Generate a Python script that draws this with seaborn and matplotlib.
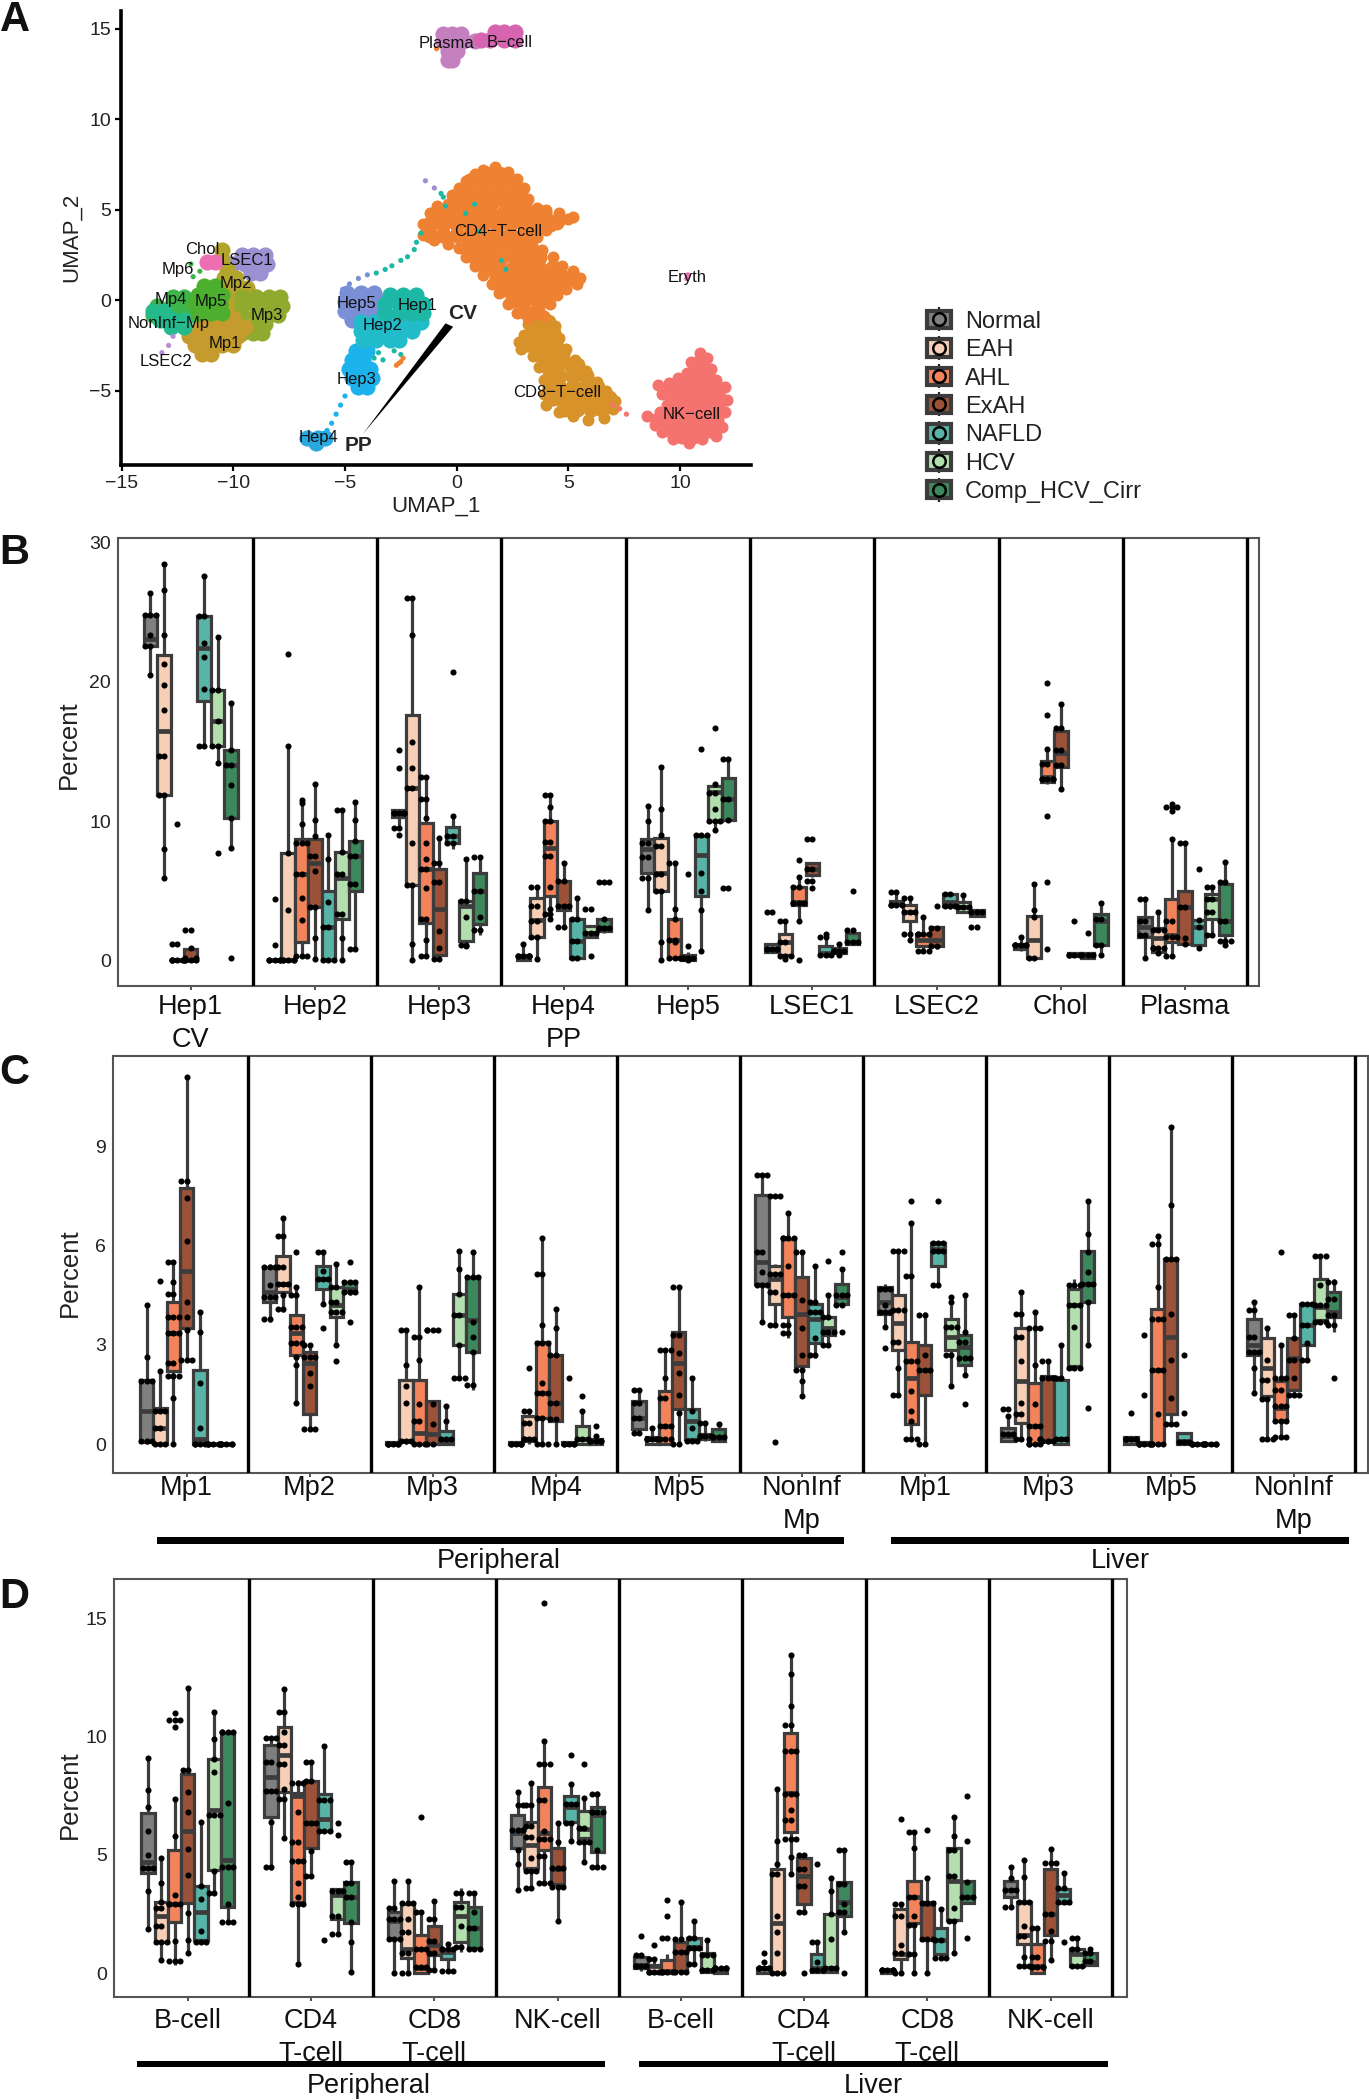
import matplotlib
matplotlib.use('Agg')
import matplotlib.pyplot as plt
import seaborn as sns
import pandas as pd
import numpy as np
from matplotlib.legend_handler import HandlerTuple
from matplotlib.lines import Line2D
from matplotlib.patches import Patch, Rectangle

# legend groups and their colours
GROUPS = ['Normal', 'EAH', 'AHL', 'ExAH', 'NAFLD', 'HCV', 'Comp_HCV_Cirr']
GROUP_COLORS = ['#7F7F7F', '#F6CFB6', '#F2835A', '#9C5238', '#58B4A6', '#B3DFAE', '#3C875B']

# panel A: cells read as rows, {y: [x, ...]}
CD4_ROWS = {7.0: [1.3, 1.9], 6.6: [.6, 1.2, 1.8, 2.4], 6.0: [.3, .7, 1.3, 1.9, 2.5, 2.8],
            5.4: [0, .4, 1, 1.6, 2.2, 2.8, 3.0], 4.8: [-.9, -.3, .3, .9, 1.5, 2.1, 2.7, 3.3, 3.9],
            4.4: [4.5], 4.2: [-1.2, -.6, 0, .6, 1.2, 1.8, 2.4, 3, 3.6, 4.2],
            3.6: [-1.2, -.6, 0, .6, 1.2, 1.8, 2.4, 3], 3.0: [.5, .9, 1.5, 2.1, 2.7, 3.3],
            2.4: [.8, 1.4, 2, 2.6, 3.2, 3.7], 1.8: [1.3, 1.9, 2.5, 3.1, 3.7, 4.3],
            1.2: [1.8, 2.4, 3, 3.6, 4.2, 4.8, 5.2], .6: [2.1, 2.7, 3.3, 3.9, 4.4],
            0: [2.5, 3, 3.6, 4.0], -.6: [3, 3.6]}
CD4_EDGE_X = [1.7, 1.2, .8, .4, .1, -.2, -.4, -.9, -1.2, -1.5, -1.5, -1, -.4, .1, .4, .8, 1.2, 1.6, 1.9, 2.3, 2.7, 3.2, 3.9,
              4.2, 4.5, 4.9, 5.4, 5.5, 5.2, 4.7, 4.3, 3.8, 3.6, 3.4, 4, 4.5, 5, 5.2, 4.6, 4, 3.6, 3.2, 3, 2.7, 2.3]
CD4_EDGE_Y = [7.35, 7.2, 7, 6.6, 6.2, 5.8, 5.3, 5.2, 4.8, 4.2, 3.6, 3.3, 3.1, 2.9, 2.4, 1.9, 1.4, .9, .4, -.2, -.7, -1, -.9,
              -.2, .3, .6, .9, 1.2, 1.6, 1.9, 2.4, 2.8, 3.5, 3.9, 3.9, 4.2, 4.5, 4.6, 4.8, 5, 5.1, 5.6, 6.2, 6.7, 7.1]
CD8_ROWS = {-1.2: [3.6, 4.1], -1.8: [3.4, 4, 4.3], -2.4: [3.2, 3.6, 4.2, 4.4], -3: [3.7, 4.1, 4.7],
            -3.6: [4, 4.5, 5.1, 5.4], -4.2: [4.2, 4.6, 5.2, 5.8], -4.8: [4.2, 4.6, 5.2, 5.8, 6.3],
            -5.4: [4.3, 4.7, 5.3, 5.9, 6.5, 6.8], -6: [4.8, 5.4, 6, 6.5]}
CD8_EDGE_X = [3.2, 3, 2.8, 2.9, 3.4, 3.7, 3.9, 3.9, 4, 4.6, 5.2, 5.9, 6.6, 7, 7.1, 6.7, 6.3, 5.8, 5.3, 4.9, 4.6, 4.4]
CD8_EDGE_Y = [-1.3, -1.9, -2.3, -2.7, -3.1, -3.7, -4.4, -5.2, -5.8, -6.2, -6.4, -6.6, -6.5, -6, -5.6, -5, -4.5, -3.9, -3.3,
              -2.7, -2.1, -1.4]
NK_ROWS = {-3.4: [10.9], -3.9: [10.7, 11.1], -4.4: [10.4, 10.9, 11.3], -4.9: [9.6, 10, 10.6, 11.2, 11.7],
           -5.5: [9.7, 10.2, 10.8, 11.4, 11.8], -6.1: [9.6, 10, 10.6, 11.2, 11.7],
           -6.6: [9, 9.4, 9.9, 10.5, 11.1, 11.6], -7.2: [9.6, 10.1, 10.7, 11.3, 11.5], -7.5: [10.1, 10.6]}
NK_EDGE_X = [10.9, 10.5, 10.3, 9.9, 9.5, 9, 9.2, 9.4, 9.1, 8.5, 8.9, 9.2, 9.7, 10.4, 11, 11.6, 11.9, 12, 12.1, 12, 11.6, 11.4, 11.2]
NK_EDGE_Y = [-2.9, -3.4, -4, -4.3, -4.6, -4.7, -5.2, -5.8, -6.2, -6.4, -6.9, -7.3, -7.7, -7.9, -7.7, -7.5, -7, -6.2, -5.5, -4.8,
             -4.4, -3.8, -3.2]
PLASMA_ROWS = {14.7: [-.6, -.2, .2], 14.3: [-.6, -.2, .3, .8], 13.8: [-.4, 0], 13.3: [-.4, -.2]}
BCELL_ROWS = {14.8: [1.7, 2.1, 2.6], 14.4: [1.1, 1.5, 2.1, 2.6]}
HEP5_ROWS = {.4: [-4.9, -4.3, -3.7], -.1: [-5.0, -4.7, -4.1, -3.5], -.6: [-5.0, -4.6, -4, -3.4], -1.1: [-4.7, -4.1]}
HEP1_ROWS = {.3: [-3, -2.4, -1.8], -.2: [-3.2, -2.6, -2, -1.5], -.7: [-3.2, -2.6, -2, -1.5]}
HEP2_ROWS = {-1.2: [-4.3, -3.7, -3.1, -2.5, -1.9, -1.6], -1.7: [-4.3, -3.7, -3.1, -2.5, -2], -2.2: [-4.2, -3.6, -3, -2.6]}
HEP3_ROWS = {-2.8: [-4.5, -4], -3.3: [-4.7, -4.2], -3.8: [-4.8, -4.3, -3.9], -4.3: [-4.7, -4.2, -3.8], -4.8: [-4.4, -4]}
HEP4_ROWS = {-7.6: [-6.7, -6.2, -5.9], -7.9: [-6.3]}
MP3_ROWS = {.2: [-9.6, -9, -8.4, -7.9], -.3: [-9.6, -9, -8.4, -7.8], -.8: [-9.6, -9, -8.4, -8],
            -1.3: [-9.6, -9, -8.6], -1.8: [-9.6, -9.1, -8.7]}
MP2_ROWS = {2.8: [-10.5], 2.3: [-10.5], 1.7: [-10.3], 1.2: [-10.4, -9.9], .7: [-10.4, -9.9, -9.4],
            .2: [-10.4, -9.9, -9.4, -9], -.3: [-10.4, -9.9]}
MP1_ROWS = {-1: [-11.2, -10.6, -10], -1.5: [-11.5, -11, -10.4, -9.9, -9.5], -2: [-12, -11.5, -10.9, -10.3, -9.8],
            -2.5: [-11.7, -11.1, -10.5, -10], -3: [-11.4, -11]}
MP5_ROWS = {.8: [-11.3, -10.8], .3: [-11.6, -11, -10.5], -.2: [-11.7, -11.1, -10.6], -.7: [-11.6, -11, -10.5]}
MP4_ROWS = {.2: [-12.7, -12.2], -.3: [-13.4, -12.8, -12.2], -.8: [-13.6, -13, -12.4, -11.9]}
NONINF_ROWS = {-.6: [-13.6, -13.1], -1.1: [-13.3, -12.7, -12.2], -1.5: [-12.8, -12.2]}
LSEC1_ROWS = {2.5: [-9.6, -9.1, -8.6], 2: [-10, -9.5, -9, -8.5], 1.5: [-9.2, -8.8]}
CHOL_ROWS = {2.1: [-11.2, -10.8]}

UMAP_CLUSTERS = [('LSEC1', LSEC1_ROWS, '#9B90D2'), ('Mp2', MP2_ROWS, '#B3A52B'), ('Chol', CHOL_ROWS, '#EE6FB1'),
                 ('Mp3', MP3_ROWS, '#8FAA2E'), ('Mp1', MP1_ROWS, '#C49B2C'), ('Mp4', MP4_ROWS, '#3DB54A'),
                 ('NonInf', NONINF_ROWS, '#25BA8C'), ('Mp5', MP5_ROWS, '#4CB02E'),
                 ('Hep5', HEP5_ROWS, '#7B8FD6'), ('Hep3', HEP3_ROWS, '#1CB2EC'), ('Hep2', HEP2_ROWS, '#22BBC9'),
                 ('Hep1', HEP1_ROWS, '#1DB8A5'), ('Hep4', HEP4_ROWS, '#2AA9E0'),
                 ('CD8', CD8_ROWS, '#D8922A'), ('CD4', CD4_ROWS, '#EE8232'), ('NK', NK_ROWS, '#F4736E'),
                 ('Plasma', PLASMA_ROWS, '#C47FBF'), ('Bcell', BCELL_ROWS, '#D664B0')]
UMAP_EDGES = [(CD8_EDGE_X, CD8_EDGE_Y, '#D8922A'), (CD4_EDGE_X, CD4_EDGE_Y, '#EE8232'), (NK_EDGE_X, NK_EDGE_Y, '#F4736E')]

# thin strays
STRAY_X = [-1.6, -1.8, -1.9, -2.2, -2.5, -2.9, -3.2, -3.6, -.5, -.6, -.7, .8, .4, 1, 2, 2.2, -3.5, -3.3, -3.7, -2.8, -2.5,
           -4, -4.4, -4.8, -5.1, -1, -1.4, -5, -5.2, -5.4, -5.6, -5.8, -5.9, -12.7, -12.9, -13.2,
           -2.6, -2.5, -2.7, -2.4, -.9, 7, 7.3, 7.6, 8.9, 9.5, 10.3, 10.35, -11.5, -11.9, -11.8]
STRAY_Y = [3.7, 3.2, 2.8, 2.4, 2.2, 1.9, 1.7, 1.5, 5.2, 5.7, 5.9, 5.3, 4.8, 3.8, 2.2, 1.7, -2.9, -3.3, -3.2, -2.8, -3,
           1.4, 1.2, .9, .6, 6.2, 6.6, -5.3, -5.8, -6.3, -6.8, -7.2, -7.4, -2, -2.5, -2.9,
           -3.5, -3.4, -3.6, -3.2, 13.9, -5.8, -6, -6.3, -4.7, -4.9, 1.2, 1.4, 1.6, 2, 1.3]
STRAY_COLORS = ['#1DB8A5'] * 21 + ['#7B8FD6'] * 4 + ['#9B90D2'] * 2 + ['#1CB2EC'] * 6 + ['#B590D3'] * 3 + \
               ['#EE8232'] * 5 + ['#F4736E'] * 5 + ['#EE6FB1'] * 2 + ['#3DB54A'] * 3

UMAP_LABELS = ['Plasma', 'B−cell', 'CD4−T−cell', 'Chol', 'LSEC1', 'Mp6', 'Mp2', 'Mp4', 'Mp5', 'Mp3', 'NonInf−Mp', 'Mp1',
               'LSEC2', 'Hep5', 'Hep1', 'Hep2', 'Hep3', 'Hep4', 'CD8−T−cell', 'NK−cell', 'Eryth']
UMAP_LABEL_X = [-.45, 2.35, 1.85, -11.4, -9.4, -12.5, -9.9, -12.8, -11, -8.5, -12.9, -10.4, -13, -4.5, -1.75, -3.3, -4.5,
                -6.2, 4.5, 10.5, 10.3]
UMAP_LABEL_Y = [14.2, 14.25, 3.8, 2.8, 2.2, 1.7, .9, .05, -.1, -.85, -1.3, -2.4, -3.4, -.2, -.3, -1.4, -4.4, -7.6, -5.1,
                -6.3, 1.25]

# panel B: [whisker low, q1, median, q3, whisker high] per group, dots per group
B_LABELS = ['Hep1\nCV', 'Hep2', 'Hep3', 'Hep4\nPP', 'Hep5', 'LSEC1', 'LSEC2', 'Chol', 'Plasma']
B_BOXES = [
    [[20.5, 22.6, 23.05, 24.8, 26.4], [5.9, 11.9, 16.5, 21.9, 28.5], [0, 0, 0, 0, 0], [0, 0, .05, .85, .9],
     [15.4, 18.6, 22.4, 24.7, 27.6], [14.2, 15.4, 17.2, 19.4, 23.2], [8.1, 10.2, 14, 15.1, 18.5]],
    [[0, 0, 0, 0, 0], [0, 0, 0, 7.7, 15.4], [.3, 1.3, 6.2, 8.7, 11.5], [.1, 3.8, 7, 8.7, 12.7],
     [0, 0, 2.4, 5, 9], [0, 3, 5.9, 7.8, 10.8], [.8, 5, 7.5, 8.6, 11.4]],
    [[9.6, 10.3, 10.6, 10.8, 10.9], [0, 5.4, 12.4, 17.6, 26], [.3, 2.7, 6.6, 9.9, 13.2], [.1, .4, 3.7, 6.6, 8.8],
     [8, 8.4, 8.9, 9.6, 10.4], [1, 1.4, 3.9, 4.3, 7.3], [1.8, 2.6, 5, 6.3, 7.4]],
    [[0, 0, .3, .4, 1.2], [.1, 1.7, 2.9, 4.5, 5.3], [3, 4.6, 8.1, 10, 11.9], [2.4, 3.6, 3.9, 5.7, 7],
     [.1, .2, 1.4, 3, 4.5], [1.7, 1.7, 2, 2.5, 2.5], [2, 2.1, 2.3, 3, 3]],
    [[3.6, 6.3, 8, 8.7, 11.1], [0, 5, 6.3, 8.8, 13.9], [.1, .2, 1.5, 3, 7], [0, 0, .2, .4, .6],
     [.7, 4.6, 7.6, 8.9, 9], [9.4, 10, 12.1, 12.5, 12.7], [10, 10.1, 11.6, 13.1, 14.5]],
    [[.5, .6, .8, 1.2, 1.2], [.1, .4, 1.3, 1.9, 2.8], [2.8, 4, 4.2, 5.3, 6], [6, 6.1, 6.6, 7, 7.1],
     [.4, .4, .5, 1, 1.9], [.4, .5, .7, .9, 1.2], [1.2, 1.2, 1.3, 2, 2.2]],
    [[3.8, 4, 4.1, 4.3, 4.9], [1.5, 2.8, 3.5, 4, 4.5], [.7, 1, 1.5, 1.9, 3.1], [.8, 1, 1.5, 2.4, 2.4],
     [3.7, 3.9, 4.2, 4.8, 4.8], [3.4, 3.5, 3.8, 4.2, 4.7], [3.2, 3.2, 3.5, 3.6, 3.6]],
    [[.7, .8, 1.1, 1.2, 1.7], [.1, .2, 1.5, 3.2, 5.5], [12.7, 12.8, 13.2, 14.3, 15.2], [12.3, 13.9, 14.9, 16.5, 18.4],
     [.3, .3, .4, .5, .5], [.2, .2, .4, .5, .5], [.4, 1.1, 2.8, 3.3, 4.1]],
    [[.2, 1.7, 2.4, 3.1, 4.4], [.5, .6, 1.6, 2.3, 3.5], [.3, 1.3, 1.8, 4.4, 8.7], [1.2, 1.2, 3.8, 5, 8.4],
     [.9, 1.1, 2.4, 2.9, 2.9], [1.8, 3, 4.4, 4.8, 5.3], [1.1, 1.8, 2.8, 5.5, 7.1]],
]
B_DOTS = [
    [[20.5, 22.6, 22.6, 23.4, 24.8, 24.8, 24.8, 26.4],
     [5.9, 8, 11.9, 11.9, 14.7, 14.7, 18, 19.8, 21.3, 23.4, 26.6, 28.5],
     [0, 0, 0, 0, 0, 0, 9.8, 1.2, 1.2],
     [0, 0, 0, 0, .2, .2, .9, 2.2, 2.2],
     [15.4, 15.4, 19.5, 21.8, 22.8, 24.7, 24.7, 27.6],
     [7.7, 14.2, 15.4, 15.4, 17.2, 19.4, 19.4, 23.2],
     [.2, 8.1, 10.2, 12.6, 14, 14, 15.1, 18.5]],
    [[0, 0, 0, 0, 0, 1.1, 4.4],
     [0, 0, 0, 0, 0, 3.6, 7.7, 15.4, 22],
     [.3, .3, .3, 2.9, 4.5, 6.2, 6.2, 8.4, 8.4, 8.4, 9.8, 11.3, 11.5],
     [.1, 1.6, 3.8, 3.8, 6.4, 7.5, 7.5, 8.9, 10.1, 12.7],
     [0, 0, 0, 2.4, 2.4, 4.2, 7.3, 9],
     [0, 1.6, 3.3, 3.3, 6.2, 6.2, 7.8, 10.8, 10.8],
     [.8, .8, 5.5, 5.5, 7.5, 7.5, 8.6, 10.1, 11.4]],
    [[9, 9.5, 9.5, 10.6, 10.6, 10.6, 10.6, 10.6, 13.8, 15.1],
     [0, 1.2, 5.4, 5.4, 8.4, 12.4, 12.4, 13.8, 15.7, 23.4, 26, 26],
     [.3, .3, 1.5, 3, 3, 5.2, 6.6, 6.6, 7.3, 8.4, 10.2, 11.6, 11.6, 13.2, 13.2],
     [.1, .1, .9, 2.1, 5.6, 5.6, 7, 7, 8.8],
     [8.4, 8.4, 8.9, 8.9, 10.4, 20.7],
     [1, 1.1, 1.1, 3.1, 4.3, 4.3, 7.3],
     [2.2, 2.2, 3.1, 5, 5, 7.4, 7.4]],
    [[.35, .35, .35, .35, .35, .35, 1.2],
     [.1, 1.7, 1.7, 2.8, 2.8, 3.9, 3.9, 5.3, 5.3],
     [3, 3.3, 3.3, 3.7, 5.3, 7.5, 7.5, 8.5, 8.5, 10, 10, 11, 11.9, 11.9],
     [2.4, 2.4, 3.9, 3.9, 3.9, 5.7, 5.7, 7],
     [.2, .2, 1.4, 1.4, 3, 3, 4.5],
     [.3, 2, 2, 2, 3.7, 3.7],
     [2.3, 2.3, 2.3, 2.3, 3, 5.6, 5.6, 5.6]],
    [[3.6, 5.9, 5.9, 7.4, 7.4, 8.4, 8.4, 10, 11.1],
     [0, 1.3, 5, 5, 6.2, 6.2, 8.2, 8.2, 9, 10.9, 13.9],
     [.2, .2, .2, 1.3, 1.5, 1.5, 3, 3.7, 7, 7],
     [0, .2, .2, .2, .2, 1, 6.2],
     [.7, 3.6, 5, 6.3, 9, 9, 9, 15.2],
     [9.4, 10, 10, 10, 10.9, 12, 12, 12.7, 16.7],
     [5.2, 5.2, 10.1, 11.6, 11.6, 14.5, 14.5]],
    [[.8, .8, .8, .8, .8, 3.5, 3.5],
     [.1, .3, .3, .3, 1.3, 1.3, 2.8, 2.8],
     [0, 2.8, 4.1, 4.1, 4.1, 4.1, 5.3, 5.3, 6, 7.2],
     [5.2, 5.7, 5.7, 6.6, 6.6, 8.7, 8.7],
     [.4, .4, .4, 1.7, 1.7, 1.9],
     [.4, .7, .7, .7, .7, 1.2],
     [1.3, 1.3, 1.3, 2.2, 2.2, 5]],
    [[4, 4, 4, 4, 4.9, 4.9],
     [1.5, 1.9, 1.9, 3.5, 3.5, 3.5, 4.5, 4.5],
     [.7, .7, .7, 1.9, 1.9, 1.9, 1.9, 3.1],
     [1, 1, 2.3, 2.3, 3.9],
     [3.9, 3.9, 3.9, 4.8, 4.8],
     [3.8, 3.8, 3.8, 4.7],
     [2.4, 2.4, 3.5, 3.5, 3.5, 3.5]],
    [[1.1, 1.1, 1.1, 1.1, 1.1, 1.1, 1.7],
     [.2, .2, 3.1, 3.6, 5.5],
     [.8, 5.6, 10.4, 13, 13, 13, 13, 13, 14.1, 14.1, 15.2, 17.6, 19.9],
     [12.3, 14, 14, 15.1, 15.1, 16.7, 16.7, 18.4],
     [.4, .4, .4, .4, 2.8],
     [.4, .4, .4, 2],
     [.4, 1.1, 1.1, 3, 3, 4.1]],
    [[.2, 1.8, 1.8, 2.8, 2.8, 4.4, 4.4],
     [.5, .9, .9, .9, .9, 2.2, 2.2, 2.2, 3.5],
     [.3, .3, 1.7, 1.7, 1.7, 2.8, 2.8, 8.7, 10.7, 11, 11, 11, 11.2],
     [1.2, 1.6, 3.8, 3.8, 8.4, 8.4],
     [.9, 2.4, 2.9, 6.6],
     [1.8, 1.8, 3.5, 3.5, 4.4, 4.4, 5.3, 5.3],
     [1.1, 1.4, 1.4, 1.4, 2.8, 2.8, 5.6, 5.6, 7.1]],
]

# panel C
C_LABELS = ['Mp1', 'Mp2', 'Mp3', 'Mp4', 'Mp5', 'NonInf\nMp', 'Mp1', 'Mp3', 'Mp5', 'NonInf\nMp']
C_BOXES = [
    [[0, .05, 1, 1.95, 4.2], [0, 0, .5, 1.1, 2.2], [0, 2.2, 3.35, 4.3, 5.5], [2.55, 3.5, 5.25, 7.75, 11.1],
     [0, 0, .15, 2.25, 4], [0, 0, 0, 0, 0], [0, 0, 0, 0, 0]],
    [[3.7, 4.3, 4.6, 5.35, 5.45], [4, 4.6, 4.85, 5.7, 6.85], [1.25, 2.7, 3.35, 3.9, 4.75], [.4, .9, 2.45, 2.8, 3],
     [4.25, 4.7, 5, 5.4, 5.8], [3, 3.85, 4.2, 4.75, 5.45], [4.5, 4.6, 4.7, 4.9, 4.95]],
    [[0, 0, 0, .05, .05], [0, .1, .1, 1.95, 3.45], [0, 0, .35, 1.95, 4.75], [0, 0, .3, 1.3, 1.3],
     [0, 0, .1, .4, 1.1], [2, 3, 3.9, 4.55, 5.85], [1.65, 2.8, 3.75, 5.05, 5.8]],
    [[0, 0, 0, .05, .05], [0, .1, .15, .85, 1], [0, .8, 1.55, 3.1, 6.25], [0, .7, 1.25, 2.7, 4.1],
     [0, 0, 0, .05, .05], [0, 0, .15, .55, 1], [0, 0, .1, .15, .15]],
    [[.3, .45, .8, 1.3, 1.65], [0, 0, .15, .2, .5], [0, 0, .55, 1.6, 2.9], [0, 1.05, 2.45, 3.4, 4.75],
     [.05, .15, .7, 1.05, 2], [.1, .15, .2, .3, .7], [.05, .1, .2, .45, .6]],
    [[3.7, 4.85, 5.5, 7.55, 8.15], [3.6, 4.25, 5, 5.4, 5.45], [3.2, 3.85, 4.5, 6.2, 7], [1.45, 2.35, 3.95, 5.05, 5.8],
     [2.6, 3.05, 3.8, 4.25, 5.4], [3, 3.3, 3.5, 3.85, 4.5], [4.15, 4.25, 4.45, 4.85, 5.3]],
    [[3.55, 3.95, 4.3, 4.75, 4.85], [1.5, 2.85, 3.65, 4.5, 5.85], [.1, .6, 2, 3.1, 6.7], [0, 1.5, 2.25, 3, 4],
     [4.8, 5.4, 5.9, 6.1, 6.1], [1.75, 2.85, 3.25, 3.8, 4.45], [2.1, 2.4, 2.95, 3.3, 4.5]],
    [[.05, .1, .25, .5, .85], [.15, .65, 1.9, 3.5, 4.6], [0, 0, .55, 1.85, 4], [0, .1, .1, 2.05, 2.5],
     [0, 0, .15, 1.95, 3], [2.3, 2.35, 4.2, 4.7, 5], [3, 4.3, 4.85, 5.85, 7.35]],
    [[0, 0, .15, .2, .2], [0, 0, 0, .05, .05], [0, 0, 2.25, 4.1, 6.3], [.6, .9, 3.25, 5.6, 9.6],
     [0, 0, .1, .35, .35], [0, 0, 0, 0, 0], [0, 0, 0, 0, 0]],
    [[1.55, 2.7, 3, 3.8, 4.3], [.15, 1.45, 2.3, 3.2, 3.5], [.2, .7, 1.1, 1.9, 3], [1.45, 1.65, 2.6, 3.2, 3.9],
     [2.5, 3, 3.6, 4.25, 4.3], [3.65, 3.75, 4.15, 5, 5.7], [3.4, 3.85, 4, 4.6, 5]],
]
C_DOTS = [
    [[.1, .1, .1, 1.9, 1.9, 1.9, 2.65, 4.2],
     [0, 0, 0, .5, .5, 1, 1, 1, 2.2, 4.95],
     [0, 1.4, 2.05, 2.05, 2.05, 2.45, 2.45, 3.35, 3.35, 3.35, 3.85, 3.85, 3.85, 4.55, 4.55, 4.9, 5.5, 5.5],
     [2.55, 2.55, 2.55, 3.45, 3.85, 4.3, 6.15, 7.45, 7.95, 7.95, 11.1],
     [0, 0, 0, 0, .5, 1.85, 3.4, 4],
     [0, 0, 0, 0, 0, 0],
     [0, 0, 0, 0, 0, 0]],
    [[3.8, 3.8, 4.45, 4.45, 4.45, 4.8, 5.35, 5.35, 5.35],
     [4.1, 4.1, 4.5, 4.85, 4.85, 4.85, 5.35, 5.35, 6.3, 6.3, 6.85],
     [1.25, 2.4, 2.65, 3.05, 3.05, 3.05, 3.55, 3.55, 3.55, 4.5, 4.5, 4.75, 5.8],
     [.45, .45, .45, 1.75, 2.15, 2.65, 2.65, 2.65, 3, 3],
     [3.5, 4.25, 5, 5, 5, 5.25, 5.8, 5.8],
     [2.5, 3, 4, 4, 4, 4.3, 4.3, 4.75, 4.75, 5.45],
     [3.7, 4.6, 4.6, 4.6, 4.9, 4.9, 4.9, 5.5]],
    [[0, 0, 0, 0, 0, 0],
     [.1, .1, .1, 1.25, 1.75, 2.4, 3.45, 3.45],
     [0, 0, 0, .7, .7, 1.2, 2.55, 3.25, 3.25, 4.75],
     [0, 0, .6, 1.2, 3.45, 3.45, 3.45, 3.45],
     [.15, .15, .15, .7, 1.15],
     [2, 2, 2, 3, 3.9, 3.9, 4.55, 5.3, 5.85],
     [1.8, 1.8, 2.8, 3.25, 3.7, 5.05, 5.05, 5.05, 5.8]],
    [[0, 0, 0, 0, 0, 0],
     [.15, .15, .15, .15, .65, .65, 1, 1, 2.3],
     [0, 0, 0, .8, .8, 1.55, 1.55, 1.55, 1.85, 3.05, 3.05, 3.05, 3.6, 5.15, 5.15, 6.25],
     [0, .75, .75, 1.25, 1.25, 2.7, 2.7, 3.5, 4.1],
     [0, 0, 0, 0, 0, 2],
     [.15, .15, .15, 1, 1.45],
     [.1, .1, .1, .1, .1, .25, .55]],
    [[.35, .35, .8, .8, 1.25, 1.25, 1.65, 1.65],
     [.15, .15, .15, .15, .15, .15, .5],
     [.15, .15, .15, .55, .55, .55, 1.4, 1.4, 2, 2.85, 2.85, 2.85],
     [0, 0, .95, 1.5, 2.15, 2.75, 3.3, 3.3, 4.75, 4.75],
     [.1, .1, .1, .5, 1, 2],
     [.25, .25, .25, .25, .65, .65],
     [.2, .2, .2, .2, .6]],
    [[3.7, 4.8, 4.8, 4.8, 5.2, 5.8, 5.8, 8.15, 8.15, 8.15],
     [.05, 3.6, 3.6, 4.6, 4.6, 5.15, 5.15, 5.15, 7.5, 7.5, 7.5],
     [3.35, 3.35, 3.6, 3.6, 4.5, 4.5, 4.5, 5.4, 6.25, 6.25, 6.25, 6.25, 7],
     [1.45, 1.9, 2.25, 2.25, 2.7, 3.5, 4.35, 5.8, 5.8],
     [2.7, 2.7, 3.2, 4, 4, 4, 4.3, 4.3, 5.4],
     [3, 3, 3.4, 3.4, 3.4, 3.85, 3.85, 4.5, 5.55],
     [3.4, 4.2, 4.2, 4.5, 4.5, 4.5, 5.3, 5.8]],
    [[2.9, 3.55, 4, 4, 4, 4.2, 4.7, 4.7, 4.7],
     [1.5, 1.5, 2.3, 3.1, 3.1, 4.05, 4.05, 4.05, 5.85, 5.85, 5.85],
     [.15, .15, .15, .7, 1, 1.6, 2.5, 2.5, 2.5, 5.1, 5.1, 6.7, 7.35],
     [0, 0, 2.25, 2.25, 2.25, 2.7, 3.9, 3.9],
     [4.8, 4.8, 5.85, 5.85, 5.85, 6.1, 6.1, 6.1, 7.35],
     [1.75, 2.7, 2.7, 3.55, 3.55, 3.55, 4.3, 4.45],
     [1.2, 2.1, 2.6, 2.6, 2.6, 3.1, 3.1, 3.4, 4.5]],
    [[.3, .3, .3, .85, 1.05, 1.05],
     [.15, .15, .9, .9, 1.25, 2.5, 3.25, 3.25, 3.95, 3.95, 4.6],
     [0, 0, 0, 0, .15, .15, .15, .55, .55, .55, 1.2, 2.4, 3.5, 3.5, 3.5, 4],
     [.1, .1, .1, 2, 2, 2, 2.5, 2.5],
     [.15, .15, .15, 2, 2, 3],
     [2.3, 2.3, 2.3, 3.55, 4.2, 4.2, 4.2, 4.8, 4.8, 4.8],
     [1.1, 3, 4.3, 4.85, 4.85, 4.85, 5.2, 5.8, 6.35, 7.35]],
    [[.15, .15, .15, .15, .15, .15, .95],
     [0, 0, 0, 0, 0, 0, 1.5, 3.3],
     [0, 0, 0, 0, .9, 2.25, 2.25, 2.25, 3.8, 3.8, 3.8, 4.75, 6.05, 6.05, 6.3],
     [.6, .6, .6, 1.4, 2.55, 3.95, 5.6, 5.6, 5.6, 7.25, 9.6],
     [.05, .05, .05, .95, 2.7],
     [0, 0, 0, 0, 0, 0],
     [0, 0, 0, 0, 0, 0]],
    [[1.55, 2.3, 2.8, 2.8, 2.8, 3.25, 3.25, 4.05, 4.05, 4.3],
     [.15, .15, .15, 1.35, 1.35, 1.95, 1.95, 2.55, 3.5],
     [.2, .2, .2, .7, .7, .7, 1.15, 1.15, 1.15, 1.65, 1.65, 2, 2, 2, 3, 5.8],
     [1.5, 1.5, 1.5, 2, 2.55, 2.55, 3.2, 3.9, 3.9],
     [2.55, 2.55, 3.05, 3.6, 3.6, 4.25, 4.25, 4.25],
     [3.7, 3.7, 3.7, 4.2, 4.2, 4.2, 4.8, 5.7, 5.7, 5.7],
     [2, 3.6, 3.6, 3.9, 3.9, 4.4, 4.4, 4.9, 4.9]],
]

# panel D
D_LABELS = ['B-cell', 'CD4\nT-cell', 'CD8\nT-cell', 'NK-cell', 'B-cell', 'CD4\nT-cell', 'CD8\nT-cell', 'NK-cell']
D_BOXES = [
    [[1.85, 4.25, 4.7, 6.75, 9.1], [.55, 1.3, 2.4, 3, 4.85], [.35, 2.15, 2.9, 5.2, 7.35], [.85, 2.95, 6, 8.4, 12.05],
     [1.3, 1.4, 2.6, 3.7, 6.4], [3.4, 4.35, 6.9, 9.05, 11.05], [2.15, 2.8, 4.8, 10.15, 10.25]],
    [[4.35, 6.6, 8.3, 9.65, 9.95], [5.7, 7.65, 9.2, 10.4, 12], [.4, 3, 7.5, 7.6, 8.15], [4.05, 5.3, 6.35, 8.1, 8.95],
     [6, 6, 6.5, 7.55, 9.6], [1.65, 2.3, 3.3, 3.55, 3.55], [.05, 2.1, 3.2, 3.85, 4.7]],
    [[0, 1.45, 2.2, 2.6, 3.9], [0, .65, 1, 2.9, 3.9], [0, 0, .2, 1.6, 2.6], [.1, .75, 1.2, 2, 3.05],
     [0, .6, .9, 1, 1.25], [.9, 1.3, 2.4, 3, 3.6], [1, 1.05, 1.9, 2.8, 3.4]],
    [[3.5, 5.3, 5.9, 6.7, 7.65], [3.6, 4.45, 5.4, 6.4, 8.05], [3.8, 5.2, 5.9, 7.85, 9.8], [2.2, 3.75, 4.4, 5.3, 6.35],
     [5.6, 6.4, 7, 7.5, 8], [4.7, 5.7, 6.1, 6.85, 7.4], [4.5, 5.1, 6.7, 7, 7.7]],
    [[.1, .2, .35, .7, .8], [0, 0, .3, .35, .5], [0, 0, .1, .55, .8], [0, .1, .9, 1.3, 3],
     [.35, 1, 1.1, 1.5, 2.2], [.05, .05, .15, .85, 1.4], [0, 0, .15, .2, .2]],
    [[0, 0, .2, .2, .2], [0, 0, 2.1, 4.4, 7.8], [4.1, 5.95, 7.6, 10.15, 13.45], [2.6, 2.9, 4.1, 4.85, 5],
     [.05, .05, .2, .8, 1.3], [.05, .05, .2, 2.5, 4], [1.75, 2.4, 3, 3.85, 5.2]],
    [[0, 0, .15, .15, .15], [.05, .6, .8, 2.7, 2.9], [0, 2.1, 3.2, 3.9, 5.95], [0, 1.4, 2.9, 3, 4],
     [.6, .8, 1.4, 1.9, 2.7], [.85, 2.25, 3.9, 5.3, 6.6], [2.95, 2.95, 3.2, 3.9, 3.9]],
    [[2.8, 3.2, 3.5, 3.9, 4.5], [.3, 1.25, 1.6, 3, 4.8], [0, 0, .3, 1.25, 1.9], [.55, 1.6, 2.5, 4.4, 5.25],
     [2.9, 2.95, 3.3, 3.55, 4.25], [.25, .3, .8, 1, 1.5], [.3, .35, .45, .85, 1]],
]
D_DOTS = [
    [[1.85, 3.45, 4.45, 4.45, 4.45, 5, 6, 7, 7.75, 9.1],
     [.55, 1.3, 1.3, 1.3, 2, 2, 2.75, 2.75, 3, 3.8, 4.85],
     [.5, .5, .5, 1.35, 2.9, 2.9, 2.9, 2.9, 3.3, 5.8, 7.35, 10.4, 10.7, 10.7, 10.7, 11],
     [.85, 1.4, 2.55, 4.15, 5.25, 6.8, 7.65, 8.6, 8.6, 12.05],
     [1.3, 1.3, 1.3, 1.8, 3.15, 3.7, 6.4],
     [3.4, 3.4, 4.3, 6.7, 6.7, 6.7, 8.5, 9.05, 9.9, 11.05],
     [2.15, 2.15, 2.15, 2.9, 4.5, 4.5, 4.5, 7.2, 10.2, 10.2, 10.2, 10.2]],
    [[4.5, 4.5, 6.4, 7.7, 7.7, 7.7, 8.9, 8.9, 9.95, 9.95, 9.95],
     [5.7, 7.35, 7.35, 7.8, 8.85, 8.85, 9.65, 9.65, 10.2, 11.05, 11.05, 12],
     [.4, 2.9, 2.9, 2.9, 3.2, 3.8, 4.75, 4.75, 4.75, 5.55, 5.55, 6.8, 8.05, 8.05, 8.05],
     [4.1, 4.1, 5.15, 6.35, 6.35, 6.35, 8.1, 8.1, 8.9, 8.9],
     [1.4, 6, 6, 6, 7.3, 7.3, 7.3, 9.6],
     [1.65, 1.65, 2.4, 2.4, 3.45, 3.45, 3.45, 5.85, 6.35],
     [.05, 1.3, 2.15, 3.2, 3.2, 3.8, 3.8, 4.7, 4.7]],
    [[0, 1.45, 1.45, 1.45, 2.3, 2.3, 2.3, 2.75, 2.75, 3.9],
     [0, 0, .85, .85, 1.75, 1.75, 2.3, 2.95, 2.95, 2.95, 3.9],
     [.25, .25, .25, 1, 1, 1, 2.6, 2.6, 6.6],
     [.15, .15, .85, .85, 1.35, 1.35, 2.3, 2.3, 3.05],
     [.1, .1, .1, 1, 1, 1, 1, 1.25],
     [1.1, 1.1, 2, 2.8, 2.8, 3.4, 3.4],
     [1, 1, 1, 1.9, 1.9, 2.6, 3.4, 3.4]],
    [[3.5, 4.6, 5.2, 6.05, 6.05, 6.05, 6.05, 7.1, 7.1, 7.65],
     [3.6, 3.6, 4.3, 4.3, 4.3, 4.85, 5.75, 5.75, 6.2, 6.2, 7.1, 7.1, 8.05],
     [3.8, 3.8, 3.8, 4.95, 4.95, 5.65, 5.65, 5.65, 6, 7.3, 7.3, 8.85, 8.85, 8.85, 9.8, 15.65],
     [2.2, 3.65, 3.65, 3.65, 4.45, 4.45, 4.45, 5.55, 6.35],
     [5.6, 6.35, 6.35, 7.15, 7.15, 7.15, 8, 9.2],
     [4.7, 5.55, 5.55, 5.55, 6.15, 6.15, 7.4, 8.85],
     [4.5, 4.5, 4.5, 5.2, 6.8, 6.8, 6.8, 6.8, 7.55, 7.55]],
    [[.3, .3, .3, .3, .3, .75, .75, 1.55],
     [.05, .05, .05, .05, .6, .6, 1.2],
     [.05, .05, .05, .05, 1.5, 1.5, 2.4, 3.1],
     [.05, .05, .05, .9, .9, .9, 1.45, 1.45, 3],
     [.4, .4, 1.05, 1.05, 1.05, 1.5, 1.5, 2.2],
     [.15, .15, .15, .15, .75, .75, .75, 1.4],
     [.2, .2, .2, .2, .2, .2]],
    [[.2, .2, .2, .2, .2, .2, .47, .83],
     [0, 0, 0, .85, 1.75, 2.4, 4.2, 4.2, 4.6, 5.6, 7.8],
     [4.2, 4.9, 5.65, 5.65, 5.65, 6.45, 6.45, 6.9, 7.55, 7.55, 7.55, 9.4, 9.4, 9.4, 10.5, 10.5, 11.3, 12.65, 13.45],
     [0, 2.6, 2.6, 3.7, 3.7, 4.4, 4.4, 5, 5],
     [.15, .15, .15, .45, 1.3, 1.3, 4.6],
     [.2, .2, .2, 1.45, 2.5, 3.45, 4],
     [0, 1.75, 2.6, 2.6, 2.9, 3.75, 3.75, 5.2, 5.2]],
    [[.15, .15, .15, .15, .15, .15, .15],
     [0, 0, .85, .85, 1.2, 2.4, 2.4, 2.9, 2.9, 6.5],
     [0, .8, .8, 2.05, 2.05, 2.4, 3.2, 3.2, 5.3, 5.95, 5.95],
     [0, 1.45, 1.45, 1.45, 2.95, 2.95, 2.95, 4, 6.05],
     [.65, .65, .65, 1.4, 1.4, 2.7],
     [.85, 2.2, 2.2, 2.75, 4.1, 4.1, 5.2, 5.2, 5.8, 6.6],
     [1.5, 3.2, 3.2, 3.2, 3.85, 5.6, 7.5]],
    [[2.8, 2.8, 3.5, 3.5, 3.5, 4, 4.5],
     [.3, .3, .3, .7, 1.55, 1.55, 2, 3, 3, 3, 4.05, 4.8],
     [.25, .25, .25, .25, .25, .7, .7, 1.9, 1.9],
     [.55, 1.35, 1.35, 1.8, 2.5, 2.5, 4.65, 4.65, 4.65, 5.25],
     [1.3, 3, 3, 3, 3.6, 3.6, 4.25],
     [.3, .3, .3, 1, 1, 1.5, 1.5],
     [.5, .5, .85, .85, 1]],
]

sns.set_theme(style='white')
plt.rcParams['font.family'] = ['Liberation Sans', 'DejaVu Sans']

W, H = 1369, 2100
fig = plt.figure(figsize=(W / 100, H / 100), dpi=100, facecolor='white')
SCALE = 1369 / 1022
BOX_STEP = 0.108


def make_axes(left, top, right, bottom):
    # edges given in the shrunk picture's pixels
    return fig.add_axes([left * SCALE / W, 1 - bottom * SCALE / H, (right - left) * SCALE / W, (bottom - top) * SCALE / H])


def fig_text(x, y, text, **kw):
    fig.text(x * SCALE / W, 1 - y * SCALE / H, text, ha='center', va='center', **kw)


def group_bar(x0, x1, y):
    fig.add_artist(Rectangle((x0 * SCALE / W, 1 - (y + 2.4) * SCALE / H), (x1 - x0) * SCALE / W, 4.8 * SCALE / H,
                             transform=fig.transFigure, color='black', lw=0))


def box_panel(ax, boxes, dots, labels, xlim, ylim, yticks, tick_pad, label_xy):
    box_rows = []
    dot_rows = []
    for i in range(len(labels)):
        for j, g in enumerate(GROUPS):
            pos = round(i + (j - 3) * BOX_STEP, 3)
            box_rows += [(pos, g, v) for v in boxes[i][j]]
            dot_rows += [(pos, g, v) for v in dots[i][j]]
    box_df = pd.DataFrame(box_rows, columns=['pos', 'group', 'Percent'])
    dot_df = pd.DataFrame(dot_rows, columns=['pos', 'group', 'Percent'])
    repeated = dot_df.duplicated(['pos', 'Percent'], keep=False)
    dark = '#3C3C3C'
    sns.boxplot(data=box_df, x='pos', y='Percent', hue='group', hue_order=GROUPS, palette=GROUP_COLORS, ax=ax,
                native_scale=True, dodge=False, width=1, gap=0, whis=np.inf, showfliers=False, showcaps=False,
                saturation=1, linewidth=2.3, linecolor=dark, medianprops={'linewidth': 3.4, 'color': dark}, legend=False)
    ax.set_ylim(*ylim)
    ax.set_xlim(*xlim)
    # single dots sit on the box centre, repeated values spread into a bar
    sns.stripplot(data=dot_df[~repeated], x='pos', y='Percent', native_scale=True, jitter=False, color='black',
                  size=4.4, linewidth=0, ax=ax, zorder=4)
    sns.swarmplot(data=dot_df[repeated], x='pos', y='Percent', native_scale=True, color='black',
                  size=4.4, linewidth=0, warn_thresh=1, ax=ax, zorder=4)
    ax.set_ylim(*ylim)
    ax.set_xlim(*xlim)
    for i in range(len(labels)):
        ax.axvline(i + .5, color='black', lw=2.4, zorder=5)
    ax.set_xticks(range(len(labels)))
    ax.set_xticklabels(labels, fontsize=19.5, color='#111111', linespacing=1.34)
    ax.set_yticks(yticks)
    ax.tick_params(axis='y', labelsize=14, length=3, width=1.2, color='#333333', pad=2, labelcolor='#222222')
    ax.tick_params(axis='x', length=3, width=1.2, color='#333333', pad=tick_pad, bottom=True)
    ax.set_xlabel('')
    ax.set_ylabel('Percent', fontsize=18.5, color='#222222')
    ax.yaxis.set_label_coords(*label_xy)
    for sp in ax.spines.values():
        sp.set_visible(True)
        sp.set_color('#555555')
        sp.set_linewidth(1.5)


# panel A
ax_a = make_axes(90, 8, 561, 347)
for name, rows, color in UMAP_CLUSTERS:
    xs = [x for y, vals in rows.items() for x in vals]
    ys = [y for y, vals in rows.items() for x in vals]
    sns.scatterplot(x=xs, y=ys, color=color, s=135, linewidth=0, ax=ax_a, legend=False)
for ex, ey, color in UMAP_EDGES:
    sns.scatterplot(x=ex, y=ey, color=color, s=75, linewidth=0, ax=ax_a, legend=False)
sns.scatterplot(x=STRAY_X, y=STRAY_Y, hue=STRAY_COLORS, palette={c: c for c in STRAY_COLORS}, s=14, linewidth=0,
                ax=ax_a, legend=False, zorder=3)
for lx, ly, lab in zip(UMAP_LABEL_X, UMAP_LABEL_Y, UMAP_LABELS):
    ax_a.text(lx, ly, lab, fontsize=12, ha='center', va='center', color='#111111', zorder=4)
ax_a.fill([-.5, -.16, -4.2], [-1.28, -1.47, -7.4], color='black', lw=0, zorder=4)
ax_a.text(.25, -.75, 'CV', fontsize=15, fontweight='bold', ha='center', va='center')
ax_a.text(-4.4, -8.05, 'PP', fontsize=15, fontweight='bold', ha='center', va='center')
ax_a.set_xlim(-15.05, 13.2)
ax_a.set_ylim(-9.1, 16.0)
ax_a.set_xticks([-15, -10, -5, 0, 5, 10])
ax_a.set_yticks([-5, 0, 5, 10, 15])
ax_a.tick_params(labelsize=14, length=4, width=1.6, color='black', bottom=True, left=True, pad=3, labelcolor='#222222')
ax_a.set_xlabel('UMAP_1', fontsize=16, color='#222222', labelpad=3)
ax_a.set_ylabel('UMAP_2', fontsize=16, color='#222222', labelpad=5)
sns.despine(ax=ax_a)
for side in ['left', 'bottom']:
    ax_a.spines[side].set_color('black')
    ax_a.spines[side].set_linewidth(2.6)

# legend
handles = [(Line2D([], [], color='#222222', marker='|', ms=17, mew=1.6, ls=''),
            Patch(fc=c, ec='#3C3C3C', lw=3),
            Line2D([], [], color=c, marker='o', ms=9, mec='black', mew=1.8, ls='')) for c in GROUP_COLORS]
fig.legend(handles, GROUPS, handler_map={tuple: HandlerTuple(ndivide=1, pad=0)}, loc='upper left',
           bbox_to_anchor=(692 * SCALE / W, 1 - 232 * SCALE / H), frameon=False, fontsize=17,
           handlelength=1.0, handleheight=.75, handletextpad=.62, labelspacing=.27, borderpad=0, borderaxespad=0,
           labelcolor='#222222')

# panel B
ax_b = make_axes(88, 402, 940, 736)
box_panel(ax_b, B_BOXES, B_DOTS, B_LABELS, (-.586, 8.595), (-1.83, 30.3), [0, 10, 20, 30], 3, (-.032, .539))

# panel C
ax_c = make_axes(84.5, 788, 1021, 1100)
box_panel(ax_c, C_BOXES, C_DOTS, C_LABELS, (-.597, 9.6), (-.89, 11.76), [0, 3, 6, 9], -1.7, (-.025, .48))

# panel D
ax_d = make_axes(85.3, 1179, 841, 1491)
box_panel(ax_d, D_BOXES, D_DOTS, D_LABELS, (-.597, 7.617), (-1.02, 16.64), [0, 5, 10, 15], 5, (-.032, .484))

group_bar(117, 630, 1150)
group_bar(665, 1007, 1150)
group_bar(102, 452, 1541)
group_bar(477, 827, 1541)
fig_text(372, 1165, 'Peripheral', fontsize=19.5, color='#111111')
fig_text(836, 1165, 'Liver', fontsize=19.5, color='#111111')
fig_text(275, 1557, 'Peripheral', fontsize=19.5, color='#111111')
fig_text(652, 1557, 'Liver', fontsize=19.5, color='#111111')

for letter, ly in zip('ABCD', [15, 413, 801, 1192]):
    fig_text(11, ly, letter, fontsize=30, fontweight='bold', color='#111111')

fig.savefig('out.png', dpi=100, facecolor='white')
